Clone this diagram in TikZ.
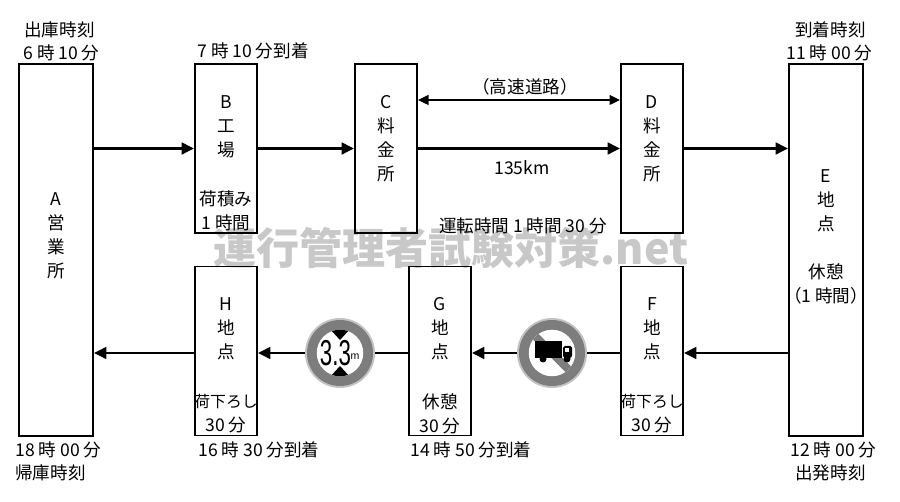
\documentclass[tikz,border=0pt]{standalone}
\usepackage{fontspec}
\setmainfont{Noto Sans CJK JP}
\newfontfamily\signfont{Liberation Sans}
\usetikzlibrary{arrows.meta,positioning}
\definecolor{signgrey}{RGB}{125,125,125}
\definecolor{signrim}{RGB}{195,195,195}
\definecolor{markgrey}{RGB}{200,200,200}

\begin{document}
\begin{tikzpicture}[x=0.02cm,y=-0.02cm,
    site/.style={draw,line width=1.1pt,minimum width=1.24cm,minimum height=3.38cm,inner sep=0pt},
    tall/.style={site,minimum width=1.48cm,minimum height=7.44cm},
    vtext/.style={align=center,inner sep=0pt,font=\fontsize{10}{13.6}\selectfont},
    stamp/.style={anchor=west,inner sep=0pt,font=\fontsize{10}{12}\selectfont},
    flow/.style={line width=1.7pt,-{Triangle[length=7pt,width=6.5pt]}},
    road/.style={line width=1.1pt,{Triangle[length=6pt,width=5.5pt]}-{Triangle[length=6pt,width=5.5pt]}},
    sign/.style={circle,fill=signrim,minimum size=1.4cm,inner sep=0pt}]
  \useasboundingbox (0,0) rectangle (900,502);
  \node [text=markgrey,font=\fontsize{24.5}{24.5}\selectfont\bfseries] (mark) at (451,248) {運行管理者試験対策.net};

  % outbound
  \node [tall] (A) at (56,250) {};
  \node [site] (B) at (226,148.5) {};
  \node [site] (C) at (386,148.5) {};
  \node [site] (D) at (652,148.5) {};
  \node [tall] (E) at (826,250) {};
  \node [vtext] (Aname) at (56,236) {A\\営\\業\\所};
  \node [vtext] (Bname) at (226,127) {B\\工\\場};
  \node [vtext] (Bnote) at (226,211) {荷積み\\1 時間};
  \node [vtext] (Cname) at (386,138.5) {C\\料\\金\\所};
  \node [vtext] (Dname) at (652,138.5) {D\\料\\金\\所};
  \node [vtext] (Ename) at (826,201) {E\\地\\点};
  \node [vtext] (Enote) at (826,284) {休憩\\（1 時間）};

  % return
  \node [site] (F) at (652,351) {};
  \node [site] (G) at (440,351) {};
  \node [site] (H) at (226,351) {};
  \node [vtext] (Fname) at (652,329) {F\\地\\点};
  \node [vtext] (Fnote) at (652,413.5) {{\fontsize{9}{13.6}\selectfont 荷下ろし}\\30 分};
  \node [vtext] (Gname) at (440,329) {G\\地\\点};
  \node [vtext] (Gnote) at (440,413.5) {休憩\\30 分};
  \node [vtext] (Hname) at (226,329) {H\\地\\点};
  \node [vtext] (Hnote) at (226,413.5) {{\fontsize{9}{13.6}\selectfont 荷下ろし}\\30 分};

  % times
  \node [stamp] (t1) at (24,30) {出庫時刻};
  \node [stamp] (t2) at (23,53) {6 時 10 分};
  \node [stamp] (t3) at (197,51) {7 時 10 分到着};
  \node [stamp] (t4) at (795,30) {到着時刻};
  \node [stamp] (t5) at (786,53) {11 時 00 分};
  \node [stamp] (t6) at (15,450) {18 時 00 分};
  \node [stamp] (t7) at (15,473) {帰庫時刻};
  \node [stamp] (t8) at (198,450) {16 時 30 分到着};
  \node [stamp] (t9) at (410,450) {14 時 50 分到着};
  \node [stamp] (t10) at (790,450) {12 時 00 分};
  \node [stamp] (t11) at (795,473) {出発時刻};

  % road signs
  \node [sign] (heightsign) at (340,353) {};
  \begin{scope}[shift={(heightsign.center)}]
    \fill [signgrey] (0,0) circle [radius=0.66cm];
    \fill [white] (0,0) circle [radius=0.465cm];
    \begin{scope}
      \clip (0,0) circle [radius=0.465cm];
      \fill (-11,-25) -- (11,-25) -- (0,-13) -- cycle;
      \fill (-11,25) -- (11,25) -- (0,13) -- cycle;
    \end{scope}
    \node [inner sep=0pt,xscale=0.62,font=\signfont\fontsize{20.5}{20.5}\selectfont] (hnum) at (-4.5,0) {3.3};
    \node [inner sep=0pt,font=\signfont\fontsize{6}{6}\selectfont] (hunit) at (15,4) {m};
  \end{scope}
  \node [sign] (trucksign) at (552,353) {};
  \begin{scope}[shift={(trucksign.center)}]
    \fill [signgrey] (0,0) circle [radius=0.66cm];
    \fill [white] (0,0) circle [radius=0.465cm];
    \begin{scope}
      \clip (0,0) circle [radius=0.465cm];
      \draw [signgrey,line width=0.16cm] (135:0.5cm) -- (-45:0.5cm);
    \end{scope}
    \fill (-17,-12) rectangle (10,5);
    \fill [rounded corners=1pt] (11,-7) rectangle (20,5);
    \fill [white] (13,-5) rectangle (17,-1);
    \fill (-9,6) circle [radius=0.07cm];
    \fill (15,6) circle [radius=0.07cm];
  \end{scope}

  % connectors
  \coordinate (hwy) at (525,100);
  \draw [flow] (A.east |- B) -- (B.west);
  \draw [flow] (B) -- (C);
  \draw [flow] (C) -- (D);
  \draw [road] (C.east |- hwy) -- (D.west |- hwy);
  \draw [flow] (D) -- (E.west |- D);
  \draw [flow] (E.west |- trucksign) -- (F.east |- trucksign);
  \draw [line width=1.7pt] (F.west |- trucksign) -- (trucksign);
  \draw [flow] (trucksign) -- (G.east |- trucksign);
  \draw [line width=1.7pt] (G.west |- heightsign) -- (heightsign);
  \draw [flow] (heightsign) -- (H.east |- heightsign);
  \draw [flow] (H.west |- heightsign) -- (A.east |- heightsign);
  \node [font=\fontsize{10}{12}\selectfont] (hwlabel) at (525,87) {（高速道路）};
  \node [font=\fontsize{10}{12}\selectfont] (dist) at (522,168) {135km};
  \node [font=\fontsize{10}{12}\selectfont] (drive) at (523,226) {運転時間 1 時間 30 分};
\end{tikzpicture}
\end{document}
